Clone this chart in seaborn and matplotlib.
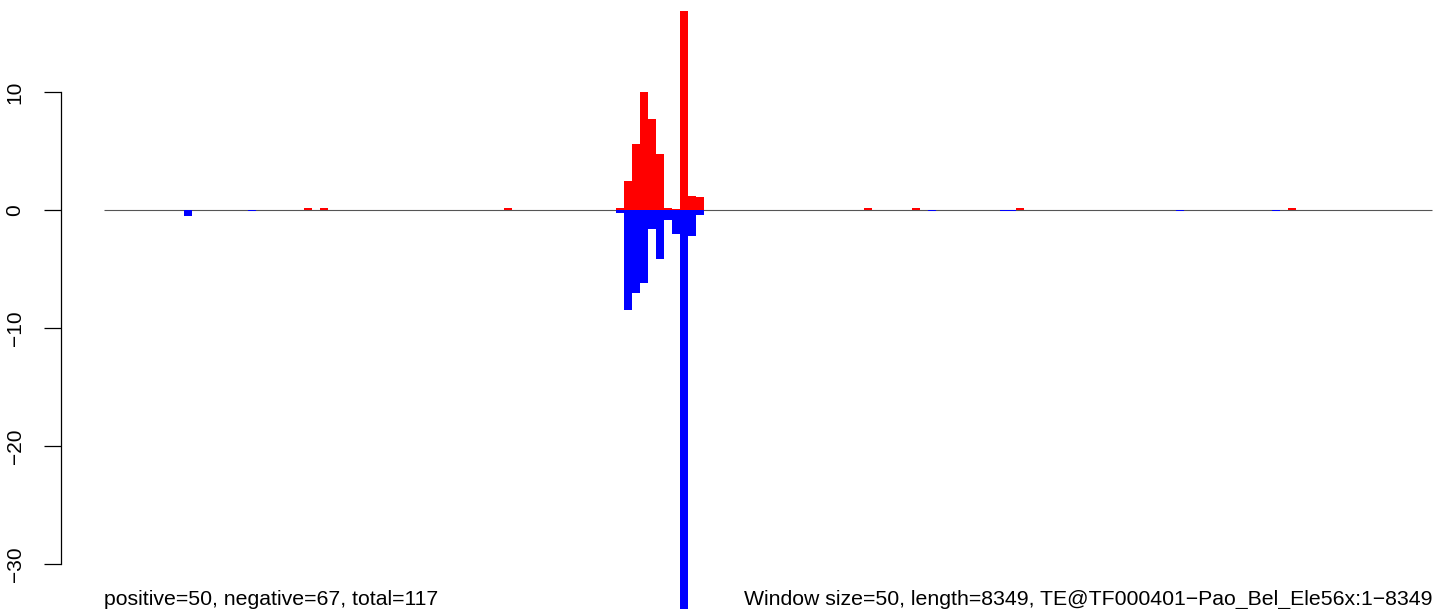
import matplotlib
matplotlib.use("Agg")
import matplotlib.pyplot as plt
import matplotlib.transforms as mtransforms
import pandas as pd
import seaborn as sns

# Window values (window size 50 bp, 8349 bp -> 167 windows)
n_windows = 167
pos_windows = [25, 27, 50, 64, 65, 66, 67, 68, 69, 70, 71, 72, 73, 74, 95, 101, 114, 148]
pos_values = [0.15, 0.15, 0.15, 0.2, 2.45, 5.6, 10.0, 7.7, 4.75, 0.17, 0.1, 16.9, 1.2, 1.1,
              0.15, 0.15, 0.15, 0.15]
neg_windows = [10, 18, 64, 65, 66, 67, 68, 69, 70, 71, 72, 73, 74, 103, 112, 113, 134, 146]
neg_values = [-0.55, -0.12, -0.25, -8.45, -7.0, -6.2, -1.6, -4.15, -0.85, -2.0, -34.5, -2.2,
              -0.4, -0.12, -0.12, -0.12, -0.12, -0.12]
y_ticks = [10, 0, -10, -20, -30]

left_note = "positive=50, negative=67, total=117"
right_note = ("Window size=50, length=8349, "
              "TE@TF000401\u2212Pao_Bel_Ele56x:1\u22128349")

# Build long table (bar centred in the middle of its window)
df = pd.concat([
    pd.DataFrame({"window": pos_windows, "value": pos_values, "strand": "+"}),
    pd.DataFrame({"window": neg_windows, "value": neg_values, "strand": "-"}),
])
df["center"] = df["window"] + 0.5

sns.set_theme(style="white")
plt.rcParams["font.family"] = ["Liberation Sans", "DejaVu Sans"]
plt.rcParams["axes.unicode_minus"] = True

fig = plt.figure(figsize=(14.44, 6.09), dpi=100)
ax = fig.add_axes([61 / 1444, 0, 1 - 61 / 1444, 1])

# Zero line (under the bars)
ax.hlines(0, 0, n_windows - 1, color="#555555", linewidth=0.8, zorder=0)

sns.barplot(data=df, x="center", y="value", hue="strand",
            palette={"+": "#ff0000", "-": "#0000ff"},
            native_scale=True, dodge=False, width=1, errorbar=None,
            saturation=1, linewidth=0, legend=False, ax=ax)
for p in ax.patches:
    p.set_zorder(3)
    p.set_antialiased(False)

ax.set_xlim((61 - 104) / 8, (1444 - 104) / 8)
ax.set_ylim(-399 / 11.8, 210 / 11.8)
ax.set_xlabel("")
ax.set_ylabel("")
ax.set_xticks([])
ax.set_yticks(y_ticks)
ax.set_yticklabels([f"{t}".replace("-", "\u2212") for t in y_ticks])

for side in ["top", "right", "bottom"]:
    ax.spines[side].set_visible(False)
ax.spines["left"].set_bounds(-30, 10)
ax.spines["left"].set_linewidth(0.9)
ax.spines["left"].set_color("black")
ax.tick_params(axis="y", direction="out", length=12.2, width=0.9, pad=14,
               labelsize=15, colors="black", labelrotation=90, left=True)
for lab in ax.get_yticklabels():
    lab.set_va("center")

trans = mtransforms.blended_transform_factory(ax.transData, ax.transAxes)
ax.text(0, 4 / 609, left_note, transform=trans, ha="left", va="baseline",
        fontsize=15.3, color="black")
ax.text(n_windows - 1, 4 / 609, right_note, transform=trans, ha="right",
        va="baseline", fontsize=15.3, color="black")

fig.savefig("out.png", dpi=100)
